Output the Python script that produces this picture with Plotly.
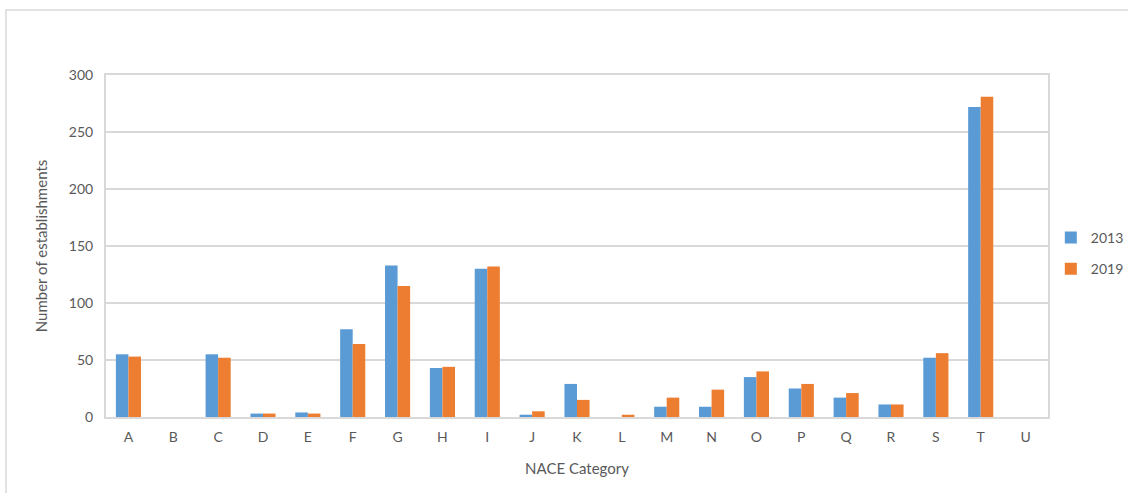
import plotly.graph_objects as go

# NACE sections and establishment counts per year
categories = ["A", "B", "C", "D", "E", "F", "G", "H", "I", "J", "K",
              "L", "M", "N", "O", "P", "Q", "R", "S", "T", "U"]
counts_2013 = [55, 0, 55, 3, 4, 77, 133, 43, 130, 2, 29,
               0, 9, 9, 35, 25, 17, 11, 52, 272, 0]
counts_2019 = [53, 0, 52, 3, 3, 64, 115, 44, 132, 5, 15,
               2, 17, 24, 40, 29, 21, 11, 56, 281, 0]
y_ticks = [0, 50, 100, 150, 200, 250, 300]

BLUE = "#5b9bd5"
ORANGE = "#ed7d31"
TEXT = "#595959"
GRID = "#d9d9d9"
FONT = "Lato, 'Open Sans', sans-serif"

fig = go.Figure()
fig.add_trace(go.Bar(x=categories, y=counts_2013, name="2013", legendgroup="y2013",
                     marker=dict(color=BLUE, line=dict(width=0))))
fig.add_trace(go.Bar(x=categories, y=counts_2019, name="2019", legendgroup="y2019",
                     marker=dict(color=ORANGE, line=dict(width=0))))

W, H = 1128, 493
ml, mr, mt, mb = 106, 80, 75, 76
pw, ph = W - ml - mr, H - mt - mb

# outer chart frame (left and top edges visible inside the canvas)
fig.add_shape(type="rect", xref="paper", yref="paper",
              x0=(6 - ml) / pw, x1=(W + 10 - ml) / pw,
              y0=-(mb + 20) / ph, y1=(H - 10 - mb) / ph,
              line=dict(color=GRID, width=1.5), fillcolor="rgba(0,0,0,0)",
              layer="below")

fig.update_layout(
    width=W, height=H,
    margin=dict(l=ml, r=mr, t=mt, b=mb, autoexpand=False),
    paper_bgcolor="white", plot_bgcolor="white",
    barmode="group", bargap=0.44, bargroupgap=0,
    font=dict(family=FONT, color=TEXT, size=13),
    showlegend=True,
    # legend sits just right of the plot area
    legend=dict(x=1.003, xanchor="left", y=0.478, yanchor="middle",
                font=dict(size=14, color=TEXT), itemwidth=30,
                tracegroupgap=10, bgcolor="rgba(0,0,0,0)"),
    xaxis=dict(
        title=dict(text="NACE Category", font=dict(size=15, color=TEXT), standoff=20),
        showgrid=False, showline=True, linecolor=GRID, linewidth=2,
        mirror=True, ticks="", tickfont=dict(size=14, color=TEXT),
        ticklabelstandoff=6, zeroline=False,
    ),
    yaxis=dict(
        title=dict(text="Number of establishments", font=dict(size=15, color=TEXT), standoff=18),
        range=[0, 300], tickvals=y_ticks, showgrid=True, gridcolor=GRID,
        gridwidth=1.5, showline=True, linecolor=GRID, linewidth=2, mirror=True,
        ticks="", tickfont=dict(size=14, color=TEXT), ticklabelstandoff=8,
        zeroline=False,
    ),
)

fig.write_html("out.html")
